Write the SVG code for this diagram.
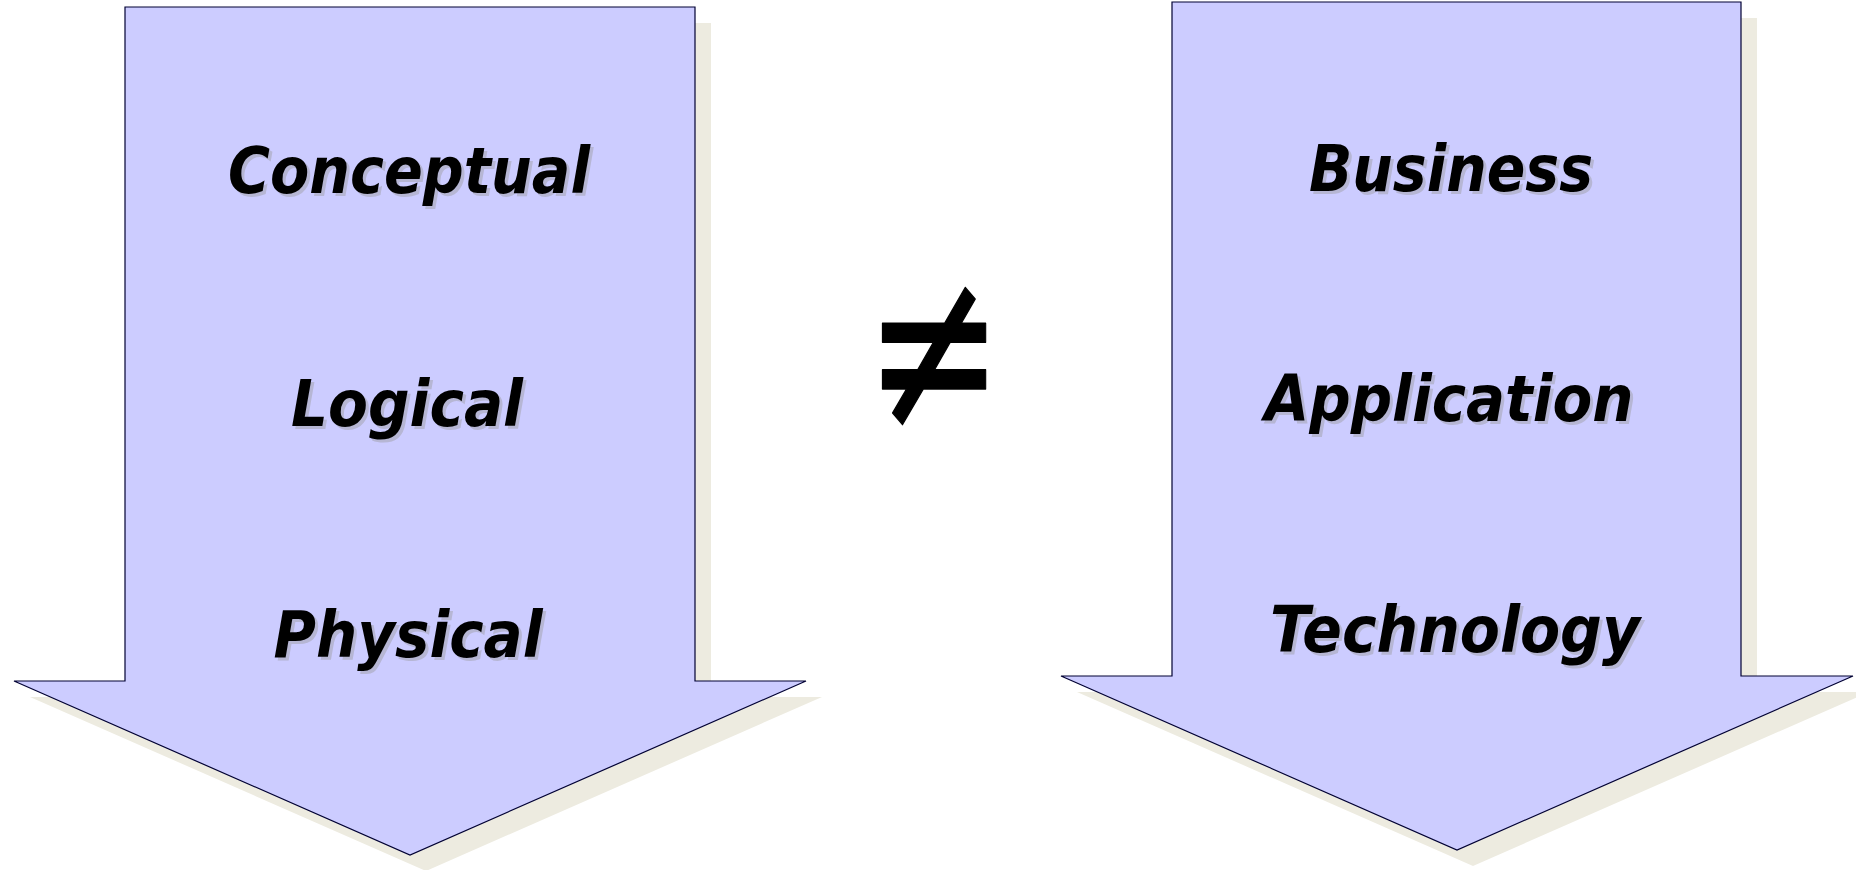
<svg xmlns="http://www.w3.org/2000/svg" width="1856" height="870" viewBox="0 0 1856 870">
  <style>
    .shadow { fill: #EDEBE0; stroke: none; }
    .arrow { fill: #CCCCFF; stroke: #000033; stroke-width: 1.2; stroke-linejoin: miter; }
    .lbl { font-family: "DejaVu Sans", Verdana, sans-serif; font-weight: bold; font-style: italic; font-size: 64px; text-anchor: middle; }
    .lbl-sh { fill: #A8A8B8; opacity: 0.6; }
    .lbl-fg { fill: #000000; }
    .neq { font-family: "DejaVu Sans", sans-serif; font-weight: normal; font-size: 150px; text-anchor: middle; fill: #000; stroke: #000; stroke-width: 1; stroke-linejoin: round; }
  </style>
  <defs>
    <path id="leftArrow" d="M125,7 H695 V681 H806 L410,855 L14,681 H125 Z"/>
    <path id="rightArrow" d="M1172,2 H1741 V676 H1853 L1457,850 L1061,676 H1172 Z"/>
  </defs>

  <!-- Modelling levels arrow -->
  <g id="levels">
    <use href="#leftArrow" class="shadow" transform="translate(16,16)"/>
    <use href="#leftArrow" class="arrow"/>
    <g id="conceptual">
      <text class="lbl lbl-sh" x="412" y="196" textLength="362" lengthAdjust="spacingAndGlyphs">Conceptual</text>
      <text class="lbl lbl-fg" x="409" y="193" textLength="362" lengthAdjust="spacingAndGlyphs">Conceptual</text>
    </g>
    <g id="logical">
      <text class="lbl lbl-sh" x="410" y="429" textLength="232" lengthAdjust="spacingAndGlyphs">Logical</text>
      <text class="lbl lbl-fg" x="407" y="426" textLength="232" lengthAdjust="spacingAndGlyphs">Logical</text>
    </g>
    <g id="physical">
      <text class="lbl lbl-sh" x="411" y="660" textLength="269" lengthAdjust="spacingAndGlyphs">Physical</text>
      <text class="lbl lbl-fg" x="408" y="657" textLength="269" lengthAdjust="spacingAndGlyphs">Physical</text>
    </g>
  </g>

  <!-- Not-equal sign, stretched vertically -->
  <g id="not-equal">
    <text class="neq" x="0" y="48" transform="translate(934,355) scale(1.1,1.55)">≠</text>
  </g>

  <!-- Architecture layers arrow -->
  <g id="layers">
    <use href="#rightArrow" class="shadow" transform="translate(16,16)"/>
    <use href="#rightArrow" class="arrow"/>
    <g id="business">
      <text class="lbl lbl-sh" x="1454" y="194" textLength="284" lengthAdjust="spacingAndGlyphs">Business</text>
      <text class="lbl lbl-fg" x="1451" y="191" textLength="284" lengthAdjust="spacingAndGlyphs">Business</text>
    </g>
    <g id="application">
      <text class="lbl lbl-sh" x="1452" y="424" textLength="369" lengthAdjust="spacingAndGlyphs">Application</text>
      <text class="lbl lbl-fg" x="1449" y="421" textLength="369" lengthAdjust="spacingAndGlyphs">Application</text>
    </g>
    <g id="technology">
      <text class="lbl lbl-sh" x="1458" y="655" textLength="370" lengthAdjust="spacingAndGlyphs">Technology</text>
      <text class="lbl lbl-fg" x="1455" y="652" textLength="370" lengthAdjust="spacingAndGlyphs">Technology</text>
    </g>
  </g>
  <g id="connectors"/>
</svg>
